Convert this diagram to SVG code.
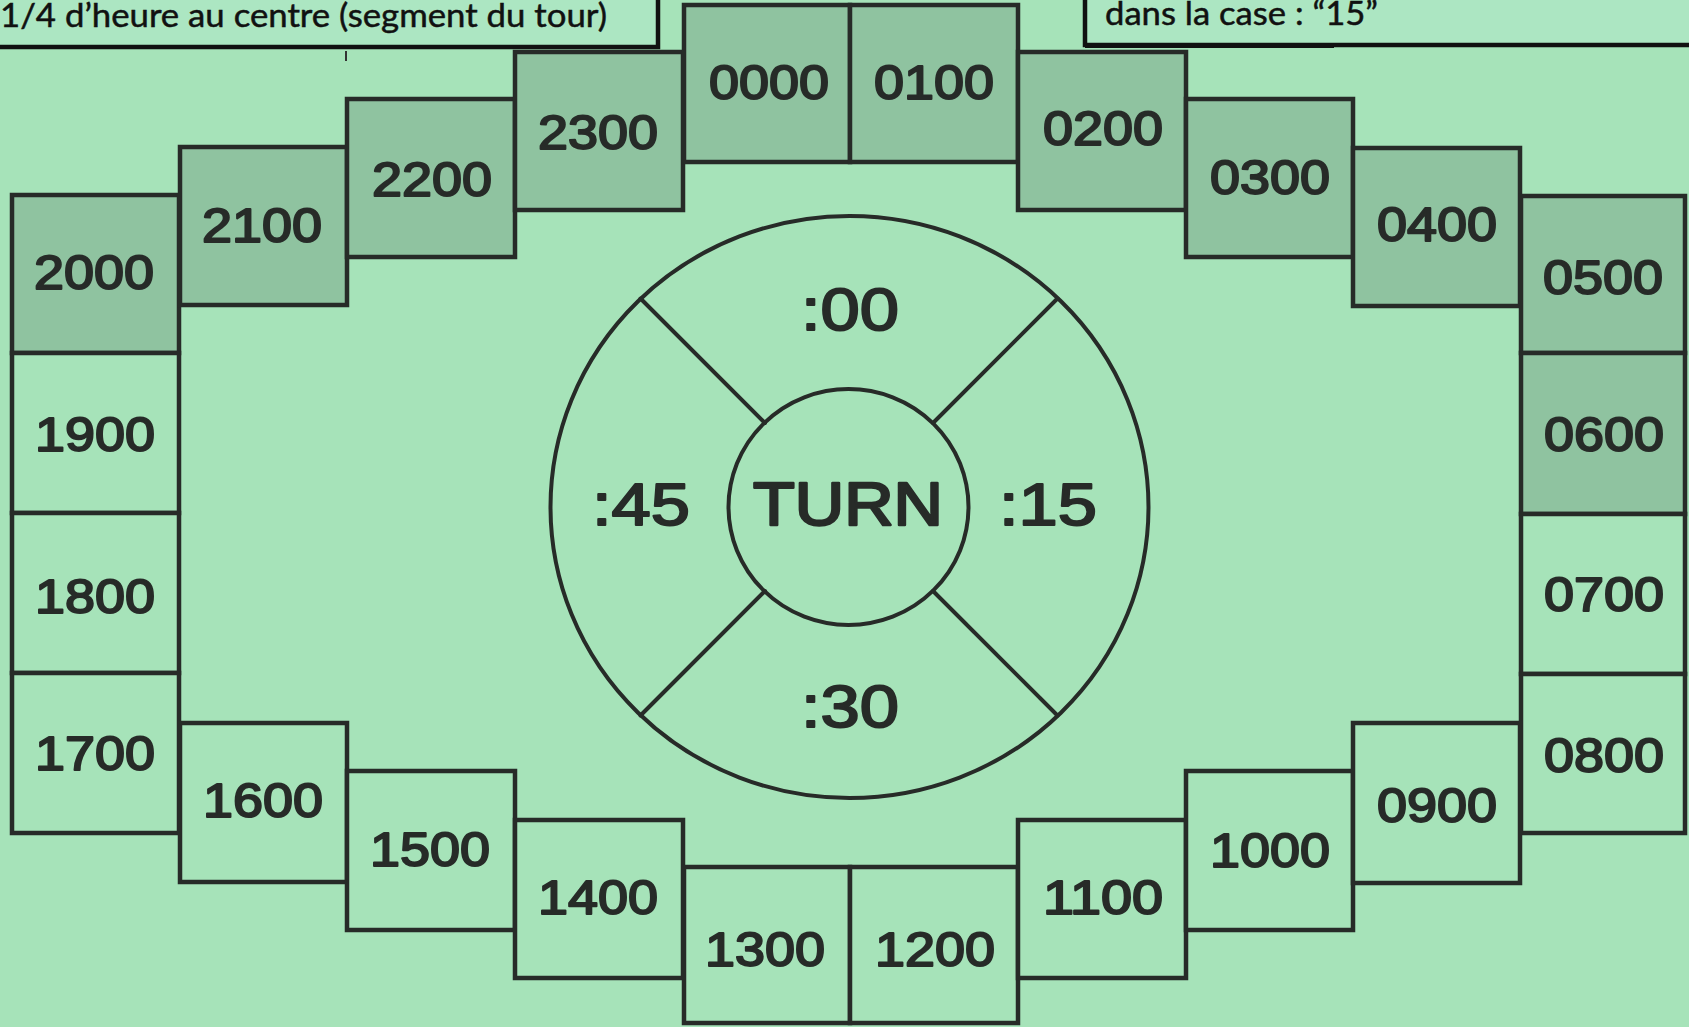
<svg xmlns="http://www.w3.org/2000/svg" width="1689" height="1027" viewBox="0 0 1689 1027">
<style>
.bg{fill:#a6e3b9}
.box{stroke:#272b28;stroke-width:4.5}
.lt{fill:#a6e3b9}
.dk{fill:#8fc3a0}
.lbl{font-family:"Liberation Sans",Arial,Helvetica,sans-serif;font-size:49px;fill:#272b28;stroke:#272b28;stroke-width:2;stroke-linejoin:round;text-anchor:middle}
.big{font-size:60px}
.turn{font-size:62px;stroke-width:2.5}
.ring{fill:none;stroke:#272b28;stroke-width:4}
.div{stroke:#272b28;stroke-width:4;stroke-linecap:round}
.call{fill:#ace6c2;stroke:#111;stroke-width:4.5}
.ctext{font-family:Lato,"Open Sans","Liberation Sans",sans-serif;font-size:33px;fill:#111;stroke:#111;stroke-width:0.5}
</style>
<rect class="bg" x="0" y="0" width="1689" height="1027"/>

<g id="callout-left">
<rect class="call" x="-10" y="-10" width="668" height="57"/>
<text class="ctext" x="0" y="27" textLength="607" lengthAdjust="spacingAndGlyphs">1/4 d’heure au centre (segment du tour)</text>
<line x1="346" y1="51" x2="346" y2="61" stroke="#333" stroke-width="2"/>
</g>
<g id="callout-right">
<rect class="call" x="1085" y="-10" width="620" height="55"/>
<line x1="1085" y1="47" x2="1334" y2="47" stroke="#111" stroke-width="2"/>
<text class="ctext" x="1105" y="25" textLength="273" lengthAdjust="spacingAndGlyphs">dans la case : “15”</text>
</g>

<g id="h2000"><rect class="box dk" x="12" y="195" width="167" height="158"/><text class="lbl" x="94" y="289" textLength="120" lengthAdjust="spacingAndGlyphs">2000</text></g>
<g id="h2100"><rect class="box dk" x="180" y="147" width="167" height="158"/><text class="lbl" x="262" y="242" textLength="120" lengthAdjust="spacingAndGlyphs">2100</text></g>
<g id="h2200"><rect class="box dk" x="347" y="99" width="168" height="158"/><text class="lbl" x="432" y="196" textLength="120" lengthAdjust="spacingAndGlyphs">2200</text></g>
<g id="h2300"><rect class="box dk" x="515" y="52" width="168" height="158"/><text class="lbl" x="598" y="149" textLength="120" lengthAdjust="spacingAndGlyphs">2300</text></g>
<g id="h0000"><rect class="box dk" x="684" y="5" width="166" height="157"/><text class="lbl" x="769" y="99" textLength="120" lengthAdjust="spacingAndGlyphs">0000</text></g>
<g id="h0100"><rect class="box dk" x="850" y="5" width="168" height="157"/><text class="lbl" x="934" y="99" textLength="120" lengthAdjust="spacingAndGlyphs">0100</text></g>
<g id="h0200"><rect class="box dk" x="1018" y="52" width="168" height="158"/><text class="lbl" x="1103" y="145" textLength="120" lengthAdjust="spacingAndGlyphs">0200</text></g>
<g id="h0300"><rect class="box dk" x="1186" y="99" width="167" height="158"/><text class="lbl" x="1270" y="194" textLength="120" lengthAdjust="spacingAndGlyphs">0300</text></g>
<g id="h0400"><rect class="box dk" x="1353" y="148" width="167" height="158"/><text class="lbl" x="1437" y="241" textLength="120" lengthAdjust="spacingAndGlyphs">0400</text></g>
<g id="h0500"><rect class="box dk" x="1521" y="196" width="164" height="157"/><text class="lbl" x="1603" y="294" textLength="120" lengthAdjust="spacingAndGlyphs">0500</text></g>

<g id="h1900"><rect class="box lt" x="12" y="353" width="167" height="160"/><text class="lbl" x="95" y="451" textLength="120" lengthAdjust="spacingAndGlyphs">1900</text></g>
<g id="h1800"><rect class="box lt" x="12" y="513" width="167" height="160"/><text class="lbl" x="95" y="613" textLength="120" lengthAdjust="spacingAndGlyphs">1800</text></g>
<g id="h1700"><rect class="box lt" x="12" y="673" width="167" height="160"/><text class="lbl" x="95" y="770" textLength="120" lengthAdjust="spacingAndGlyphs">1700</text></g>

<g id="h0600"><rect class="box dk" x="1521" y="353" width="164" height="161"/><text class="lbl" x="1604" y="451" textLength="120" lengthAdjust="spacingAndGlyphs">0600</text></g>
<g id="h0700"><rect class="box lt" x="1521" y="514" width="164" height="160"/><text class="lbl" x="1604" y="611" textLength="120" lengthAdjust="spacingAndGlyphs">0700</text></g>
<g id="h0800"><rect class="box lt" x="1521" y="674" width="164" height="159"/><text class="lbl" x="1604" y="772" textLength="120" lengthAdjust="spacingAndGlyphs">0800</text></g>

<g id="h1600"><rect class="box lt" x="180" y="723" width="167" height="159"/><text class="lbl" x="263" y="817" textLength="120" lengthAdjust="spacingAndGlyphs">1600</text></g>
<g id="h1500"><rect class="box lt" x="347" y="771" width="168" height="159"/><text class="lbl" x="430" y="866" textLength="120" lengthAdjust="spacingAndGlyphs">1500</text></g>
<g id="h1400"><rect class="box lt" x="515" y="820" width="168" height="158"/><text class="lbl" x="598" y="914" textLength="120" lengthAdjust="spacingAndGlyphs">1400</text></g>
<g id="h1300"><rect class="box lt" x="684" y="867" width="166" height="156"/><text class="lbl" x="765" y="966" textLength="120" lengthAdjust="spacingAndGlyphs">1300</text></g>
<g id="h1200"><rect class="box lt" x="850" y="867" width="168" height="156"/><text class="lbl" x="935" y="966" textLength="120" lengthAdjust="spacingAndGlyphs">1200</text></g>
<g id="h1100"><rect class="box lt" x="1018" y="820" width="168" height="158"/><text class="lbl" x="1103" y="914" textLength="120" lengthAdjust="spacingAndGlyphs">1100</text></g>
<g id="h1000"><rect class="box lt" x="1186" y="771" width="167" height="159"/><text class="lbl" x="1270" y="867" textLength="120" lengthAdjust="spacingAndGlyphs">1000</text></g>
<g id="h0900"><rect class="box lt" x="1353" y="723" width="167" height="160"/><text class="lbl" x="1437" y="822" textLength="120" lengthAdjust="spacingAndGlyphs">0900</text></g>

<g id="dial">
<ellipse class="ring" cx="849.5" cy="507" rx="299" ry="291"/>
<ellipse class="ring" cx="848.5" cy="507" rx="120" ry="118"/>
<g id="connectors">
<line class="div" x1="765" y1="423" x2="640.5" y2="298.5"/>
<line class="div" x1="933" y1="423" x2="1057.5" y2="298.5"/>
<line class="div" x1="765" y1="591" x2="640.5" y2="715.5"/>
<line class="div" x1="933" y1="591" x2="1057.5" y2="715.5"/>
</g>
</g>
<g id="q00"><text class="lbl big" x="850" y="329.5" textLength="98" lengthAdjust="spacingAndGlyphs">:00</text></g>
<g id="q15"><text class="lbl big" x="1048" y="525" textLength="98" lengthAdjust="spacingAndGlyphs">:15</text></g>
<g id="q30"><text class="lbl big" x="850" y="727" textLength="98" lengthAdjust="spacingAndGlyphs">:30</text></g>
<g id="q45"><text class="lbl big" x="641" y="525" textLength="98" lengthAdjust="spacingAndGlyphs">:45</text></g>
<g id="turn"><text class="lbl turn" x="848" y="525" textLength="190" lengthAdjust="spacingAndGlyphs">TURN</text></g>
</svg>
